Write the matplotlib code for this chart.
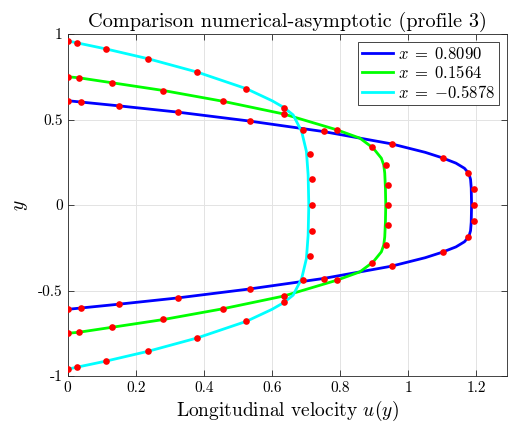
import numpy as np
import matplotlib
matplotlib.use('Agg')
import matplotlib.pyplot as plt

plt.rcParams['font.family'] = 'serif'
plt.rcParams['font.serif'] = ['cmr10']
plt.rcParams['mathtext.fontset'] = 'cm'
plt.rcParams['axes.unicode_minus'] = False
plt.rcParams['axes.formatter.use_mathtext'] = True

# ---- numerical profiles (lines) ----
blue_u = [0, 0.04, 0.15, 0.32, 0.53, 0.75, 0.95, 1.05, 1.10, 1.14, 1.165, 1.178, 1.183, 1.185, 1.186,
          1.185, 1.183, 1.178, 1.165, 1.14, 1.10, 1.05, 0.95, 0.75, 0.53, 0.32, 0.15, 0.04, 0]
blue_y = [0.61, 0.602, 0.58, 0.544, 0.492, 0.43, 0.358, 0.308, 0.276, 0.245, 0.215, 0.185, 0.15, 0.1, 0.0,
          -0.1, -0.15, -0.185, -0.215, -0.245, -0.276, -0.308, -0.358, -0.43, -0.492, -0.544, -0.58, -0.602, -0.61]

green_u = [0, 0.033, 0.13, 0.28, 0.455, 0.635, 0.79, 0.858, 0.897, 0.921, 0.928, 0.931, 0.933, 0.934,
           0.933, 0.931, 0.928, 0.921, 0.897, 0.858, 0.79, 0.635, 0.455, 0.28, 0.13, 0.033, 0]
green_y = [0.75, 0.744, 0.715, 0.67, 0.607, 0.532, 0.44, 0.391, 0.333, 0.274, 0.235, 0.187, 0.1, 0.0,
           -0.1, -0.187, -0.235, -0.274, -0.333, -0.391, -0.44, -0.532, -0.607, -0.67, -0.715, -0.744, -0.75]

cyan_u = [0, 0.028, 0.112, 0.237, 0.381, 0.525, 0.6, 0.635, 0.662, 0.687, 0.701, 0.706, 0.708,
          0.706, 0.701, 0.687, 0.662, 0.635, 0.6, 0.525, 0.381, 0.237, 0.112, 0.028, 0]
cyan_y = [0.96, 0.948, 0.913, 0.855, 0.777, 0.68, 0.61, 0.57, 0.527, 0.43, 0.313, 0.177, 0.0,
          -0.177, -0.313, -0.43, -0.527, -0.57, -0.61, -0.68, -0.777, -0.855, -0.913, -0.948, -0.96]

# ---- asymptotic points (red dots) ----
blue_du = [0, 0.038, 0.151, 0.324, 0.534, 0.753, 0.952, 1.101, 1.175, 1.193, 1.194,
           1.193, 1.175, 1.101, 0.952, 0.753, 0.534, 0.324, 0.151, 0.038, 0]
blue_dy = [0.61, 0.602, 0.58, 0.544, 0.493, 0.431, 0.358, 0.277, 0.188, 0.095, 0.0,
           -0.095, -0.188, -0.277, -0.358, -0.431, -0.493, -0.544, -0.58, -0.602, -0.61]

green_du = [0, 0.033, 0.129, 0.279, 0.455, 0.635, 0.79, 0.894, 0.935, 0.941, 0.942,
            0.941, 0.935, 0.894, 0.79, 0.635, 0.455, 0.279, 0.129, 0.033, 0]
green_dy = [0.75, 0.741, 0.713, 0.668, 0.607, 0.53, 0.44, 0.34, 0.232, 0.117, 0.0,
            -0.117, -0.232, -0.34, -0.44, -0.53, -0.607, -0.668, -0.713, -0.741, -0.75]

cyan_du = [0, 0.028, 0.112, 0.237, 0.381, 0.525, 0.635, 0.692, 0.711, 0.716, 0.717,
           0.716, 0.711, 0.692, 0.635, 0.525, 0.381, 0.237, 0.112, 0.028, 0]
cyan_dy = [0.96, 0.948, 0.913, 0.855, 0.777, 0.679, 0.565, 0.436, 0.297, 0.15, 0.0,
           -0.15, -0.297, -0.436, -0.565, -0.679, -0.777, -0.855, -0.913, -0.948, -0.96]

labels = [r'$x\;=\;0.8090$', r'$x\;=\;0.1564$', r'$x\;=\;{-}0.5878$']

fig = plt.figure(figsize=(5.08, 4.29), dpi=100)
ax = fig.add_axes([0.1333, 0.1235, 0.8647, 0.7972])

ax.plot(blue_u, blue_y, color='#0000ff', lw=2.0, label=labels[0])
ax.plot(green_u, green_y, color='#00ff00', lw=2.0, label=labels[1])
ax.plot(cyan_u, cyan_y, color='#00ffff', lw=2.0, label=labels[2])
for du, dy in [(blue_du, blue_dy), (green_du, green_dy), (cyan_du, cyan_dy)]:
    ax.plot(du, dy, 'o', color='#ff0000', ms=4.8, mec='none', zorder=5)

ax.set_xlim(0, 1.29)
ax.set_ylim(-1, 1)
ax.set_xticks([0, 0.2, 0.4, 0.6, 0.8, 1, 1.2])
ax.set_xticklabels(['0', '0.2', '0.4', '0.6', '0.8', '1', '1.2'])
ax.set_yticks([-1, -0.5, 0, 0.5, 1])
ax.set_yticklabels(['-1', '-0.5', '0', '0.5', '1'])
ax.tick_params(direction='in', top=True, right=True, labelsize=11, length=4,
               color='#262626', width=0.6)
for s in ax.spines.values():
    s.set_color('#262626')
    s.set_linewidth(0.6)
ax.grid(True, color='#e3e3e3', lw=0.7)
ax.set_axisbelow(True)

ax.set_title('Comparison numerical-asymptotic (profile 3)', fontsize=14.6, pad=5)
ax.set_xlabel(r'Longitudinal velocity $u(y)$', fontsize=14, labelpad=3)
ax.set_ylabel(r'$y$', fontsize=14, labelpad=6)

leg = ax.legend(loc='upper right', fontsize=12, fancybox=False, framealpha=1,
                edgecolor='#262626', handlelength=1.9, borderpad=0.25,
                labelspacing=0.15, handletextpad=0.3, borderaxespad=0.45)
leg.get_frame().set_linewidth(0.6)

fig.savefig('out.png', dpi=100)
